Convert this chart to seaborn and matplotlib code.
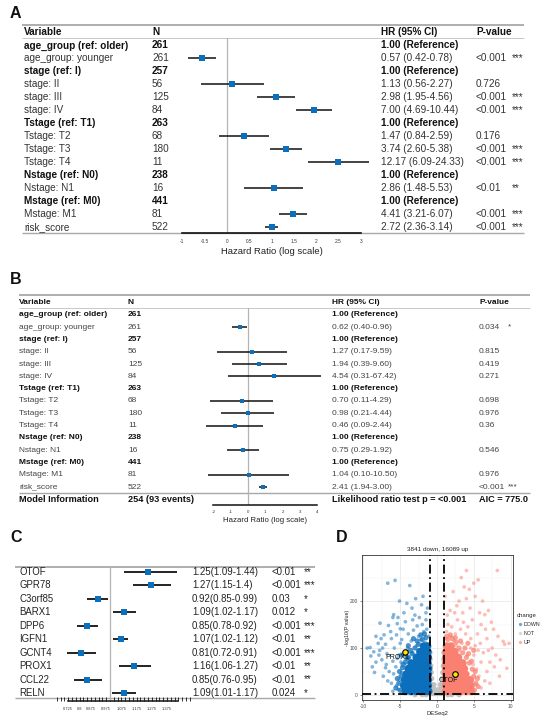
import numpy as np
import pandas as pd
import matplotlib
matplotlib.use("Agg")
import matplotlib.pyplot as plt
import seaborn as sns
from matplotlib.transforms import blended_transform_factory
from matplotlib.lines import Line2D
from matplotlib.ticker import MultipleLocator

nan = np.nan

# ---------------- Panel A data (univariate Cox) ----------------
A_vars = ["age_group (ref: older)", "age_group: younger", "stage (ref: I)", "stage: II", "stage: III",
          "stage: IV", "Tstage (ref: T1)", "Tstage: T2", "Tstage: T3", "Tstage: T4", "Nstage (ref: N0)",
          "Nstage: N1", "Mstage (ref: M0)", "Mstage: M1", "risk_score"]
A_ref = [True, False, True, False, False, False, True, False, False, False, True, False, True, False, False]
A_n = [261, 261, 257, 56, 125, 84, 263, 68, 180, 11, 238, 16, 441, 81, 522]
A_hr = [nan, 0.57, nan, 1.13, 2.98, 7.00, nan, 1.47, 3.74, 12.17, nan, 2.86, nan, 4.41, 2.72]
A_lo = [nan, 0.42, nan, 0.56, 1.95, 4.69, nan, 0.84, 2.60, 6.09, nan, 1.48, nan, 3.21, 2.36]
A_hi = [nan, 0.78, nan, 2.27, 4.56, 10.44, nan, 2.59, 5.38, 24.33, nan, 5.53, nan, 6.07, 3.14]
A_p = ["", "<0.001", "", "0.726", "<0.001", "<0.001", "", "0.176", "<0.001", "<0.001", "", "<0.01", "",
       "<0.001", "<0.001"]
A_stars = ["", "***", "", "", "***", "***", "", "", "***", "***", "", "**", "", "***", "***"]
A_ticks = [-1, -0.5, 0, 0.5, 1, 1.5, 2, 2.5, 3]

# ---------------- Panel B data (multivariate Cox) ----------------
B_vars = A_vars
B_ref = A_ref
B_n = [261, 261, 257, 56, 125, 84, 263, 68, 180, 11, 238, 16, 441, 81, 522]
B_hr = [nan, 0.62, nan, 1.27, 1.94, 4.54, nan, 0.70, 0.98, 0.46, nan, 0.75, nan, 1.04, 2.41]
B_lo = [nan, 0.40, nan, 0.17, 0.39, 0.31, nan, 0.11, 0.21, 0.09, nan, 0.29, nan, 0.10, 1.94]
B_hi = [nan, 0.96, nan, 9.59, 9.60, 67.42, nan, 4.29, 4.44, 2.44, nan, 1.92, nan, 10.50, 3.00]
B_p = ["", "0.034", "", "0.815", "0.419", "0.271", "", "0.698", "0.976", "0.36", "", "0.546", "",
       "0.976", "<0.001"]
B_stars = ["", "*", "", "", "", "", "", "", "", "", "", "", "", "", "***"]
B_model = ["Model Information", "254 (93 events)", "Likelihood ratio test p = <0.001", "AIC = 775.0"]
B_ticks = [-2, -1, 0, 1, 2, 3, 4]

# ---------------- Panel C data (gene forest) ----------------
C_genes = ["OTOF", "GPR78", "C3orf85", "BARX1", "DPP6", "IGFN1", "GCNT4", "PROX1", "CCL22", "RELN"]
C_hr = [1.25, 1.27, 0.92, 1.09, 0.85, 1.07, 0.81, 1.16, 0.85, 1.09]
C_lo = [1.09, 1.15, 0.85, 1.02, 0.78, 1.02, 0.72, 1.06, 0.76, 1.01]
C_hi = [1.44, 1.4, 0.99, 1.17, 0.92, 1.12, 0.91, 1.27, 0.95, 1.17]
C_p = ["<0.01", "<0.001", "0.03", "0.012", "<0.001", "<0.01", "<0.001", "<0.01", "<0.01", "0.024"]
C_stars = ["**", "***", "*", "*", "***", "**", "***", "**", "**", "*"]
C_ticks = [0.725, 0.8, 0.875, 0.975, 1.075, 1.175, 1.275, 1.375]

# ---------------- Panel D data (volcano) ----------------
D_title = "3841 down, 16089 up"
down_sc = [(-6.7, 238), (-5.7, 244), (-3.7, 233), (-2.1, 192), (-5.9, 171), (-6.0, 165), (-7.75, 153),
           (-5.4, 152), (-4.3, 156), (-5.0, 141), (-2.7, 147), (-9.1, 101), (-7.0, 108), (-8.6, 92),
           (-9.0, 83), (-8.3, 70), (-7.0, 58), (-6.5, 50), (-7.5, 75), (-6.2, 120), (-5.5, 128),
           (-4.8, 118), (-3.9, 130), (-3.2, 138), (-2.5, 125), (-1.8, 135), (-1.5, 160), (-3.0, 170),
           (-4.5, 175), (-6.3, 135), (-7.2, 128), (-8.0, 110), (-5.8, 100), (-6.8, 88), (-7.8, 95),
           (-5.2, 85), (-6.0, 72), (-5.6, 60), (-8.8, 60), (-7.3, 40), (-6.7, 30), (-5.9, 45),
           (-5.0, 110), (-4.0, 100), (-3.5, 115), (-2.8, 105), (-2.2, 118), (-1.6, 112), (-3.3, 160),
           (-2.4, 165), (-4.6, 140), (-5.3, 165), (-6.6, 148), (-7.6, 120), (-8.3, 125), (-9.5, 100),
           (-4.1, 195), (-3.4, 185), (-2.9, 205), (-5.1, 200), (-1.3, 185), (-1.9, 210), (-7.9, 85),
           (-8.5, 48), (-6.9, 65), (-4.9, 70), (-5.4, 78), (-4.4, 85), (-3.8, 80), (-7.4, 100),
           (-3.3, 90), (-2.6, 95), (-1.2, 95), (-1.4, 140), (-2.0, 150), (-1.1, 125), (-6.2, 25),
           (-5.5, 20), (-5.1, 32), (-4.8, 48), (-5.3, 12), (-6.0, 8), (-1.5, 175)]
down_mid = [(-5.0, 10), (-5.2, 25), (-4.9, 40), (-4.7, 58), (-4.3, 70), (-3.9, 80), (-3.4, 88),
            (-3.0, 100), (-2.5, 108), (-2.0, 118), (-1.5, 122), (-5.6, 15), (-5.4, 35), (-5.1, 50),
            (-4.6, 65), (-4.1, 78), (-3.6, 95), (-2.7, 115), (-2.2, 128), (-1.7, 130), (-4.8, 85),
            (-3.9, 105), (-3.2, 120)]
down_core = [(-4.3, 8), (-3.6, 8), (-2.9, 8), (-2.2, 8), (-1.5, 8), (-1.15, 8),
             (-4.5, 20), (-3.8, 20), (-3.1, 20), (-2.4, 20), (-1.7, 20), (-1.2, 20),
             (-4.4, 32), (-3.7, 32), (-3.0, 32), (-2.3, 32), (-1.6, 32), (-1.2, 32),
             (-4.2, 44), (-3.5, 44), (-2.8, 44), (-2.1, 44), (-1.5, 44), (-1.2, 44),
             (-3.9, 56), (-3.3, 56), (-2.6, 56), (-2.0, 56), (-1.4, 56), (-1.15, 56),
             (-3.5, 68), (-2.9, 68), (-2.3, 68), (-1.7, 68), (-1.25, 68),
             (-2.8, 80), (-2.2, 80), (-1.6, 80), (-1.2, 80),
             (-2.3, 92), (-1.7, 92), (-1.25, 92), (-1.8, 104), (-1.3, 104)]
up_sc = [(4.0, 265), (8.2, 265), (5.6, 245), (5.0, 238), (5.2, 210), (4.0, 205), (6.5, 171), (9.0, 114),
         (9.2, 108), (9.5, 57), (7.7, 140), (6.0, 150), (4.5, 185), (3.5, 175), (2.8, 160), (3.2, 140),
         (5.5, 130), (6.8, 120), (7.5, 100), (8.0, 85), (8.6, 75), (7.2, 70), (6.3, 90), (5.2, 105),
         (4.6, 120), (3.9, 130), (2.5, 130), (2.0, 145), (1.5, 150), (1.8, 180), (3.0, 200), (6.2, 200),
         (7.0, 180), (4.8, 160), (5.8, 175), (3.4, 110), (5.0, 85), (6.0, 70), (6.8, 50), (7.8, 60),
         (5.7, 40), (8.5, 40), (6.5, 30), (5.4, 55), (4.6, 100), (3.7, 230), (2.3, 115), (1.2, 120),
         (1.4, 170), (6.6, 140), (7.4, 155), (8.3, 125), (5.9, 110), (4.2, 145), (2.7, 190), (9.8, 110),
         (1.1, 210), (2.2, 220), (3.3, 250), (4.4, 225), (7.0, 95), (5.3, 22), (6.0, 15), (7.2, 25),
         (4.9, 12), (1.3, 135), (1.9, 125), (2.6, 105), (3.1, 95), (4.1, 85), (4.9, 65), (5.6, 95),
         (3.6, 155), (2.4, 175)]
up_mid = [(5.1, 10), (5.3, 25), (5.0, 40), (4.8, 55), (4.4, 68), (4.0, 80), (3.5, 90), (3.0, 100),
          (2.6, 112), (2.1, 120), (1.5, 118), (5.6, 18), (5.5, 35), (5.2, 50), (4.7, 72), (4.3, 88),
          (3.8, 100), (3.2, 115), (2.5, 122), (1.8, 128), (1.3, 125), (5.0, 95), (4.2, 110)]
up_core = [(1.2, 8), (1.9, 8), (2.6, 8), (3.3, 8), (4.0, 8), (4.6, 8),
           (1.2, 20), (1.9, 20), (2.6, 20), (3.3, 20), (4.0, 20), (4.6, 20),
           (1.2, 32), (1.9, 32), (2.6, 32), (3.3, 32), (4.0, 32), (4.5, 32),
           (1.2, 44), (1.9, 44), (2.6, 44), (3.3, 44), (3.9, 44),
           (1.2, 56), (1.8, 56), (2.5, 56), (3.1, 56), (3.7, 56),
           (1.2, 68), (1.8, 68), (2.4, 68), (3.0, 68), (3.5, 68),
           (1.2, 80), (1.8, 80), (2.4, 80), (2.9, 80),
           (1.25, 92), (1.9, 92), (2.4, 92), (1.3, 104), (1.9, 104)]
not_pts = [(-0.8, 3), (-0.5, 3), (-0.2, 3), (0.1, 3), (0.4, 3), (0.7, 3),
           (-0.85, 12), (-0.55, 12), (-0.3, 12), (0.3, 12), (0.6, 12), (0.85, 12),
           (-0.9, 22), (-0.65, 22), (-0.4, 22), (0.45, 22), (0.7, 22), (0.9, 22),
           (-0.9, 35), (-0.7, 35), (0.7, 35), (0.9, 35), (-0.92, 48), (-0.78, 48), (0.78, 48), (0.92, 48),
           (-0.93, 62), (-0.83, 62), (0.85, 62), (0.93, 62), (-0.93, 76), (0.93, 76), (-0.94, 90),
           (0.94, 90), (-3.0, 0.5), (-2.0, 0.5), (-1.5, 0.5), (1.5, 0.5), (2.0, 0.5), (3.0, 0.5)]
fc_cut = [-1, 1]
p_cut = 1.3
hl_genes = ["PROX1", "OTOF"]
hl_x = [-4.3, 2.45]
hl_y = [92, 45]
hl_lab_x = [-5.4, 1.6]
hl_lab_y = [79, 31]
D_xticks = [-10, -5, 0, 5, 10]
D_yticks = [0, 100, 200]
D_groups = ["DOWN", "NOT", "UP"]

# ---------------- style ----------------
sns.set_theme(style="white")
plt.rcParams['font.family'] = ['Liberation Sans', 'DejaVu Sans']
plt.rcParams['axes.unicode_minus'] = False

BLUE = "#0B6FBB"
RED = "#FA8072"
GREY = "#BEBEBE"
LINEGREY = "#A8A8A8"
W, H = 550, 721

fig = plt.figure(figsize=(5.5, 7.21), dpi=100)
bg = fig.add_axes([0, 0, 1, 1])
bg.set_xlim(0, W)
bg.set_ylim(H, 0)
bg.axis("off")


def fig_box(x0, y0, x1, y1):
    return fig.add_axes([x0 / W, 1 - y1 / H, (x1 - x0) / W, (y1 - y0) / H])


def forest(ax, df, color, s, lw):
    d = df.dropna()
    ax.hlines(d["row"], d["lo"], d["hi"], color="#111111", lw=lw, zorder=2)
    sns.scatterplot(data=d, x="est", y="row", marker="s", s=s, color=color, linewidth=0,
                    ax=ax, zorder=3, legend=False)
    ax.set_xlabel("")
    ax.set_ylabel("")
    ax.patch.set_alpha(0)
    for sp in ["top", "left", "right"]:
        ax.spines[sp].set_visible(False)
    ax.set_yticks([])


def hline(y, x0, x1, lw=1.0, color=LINEGREY):
    bg.plot([x0, x1], [y, y], color=color, lw=lw, solid_capstyle="butt")


# panel letters
for lab, (x, y) in zip("ABCD", [(15, 13), (16, 280), (16, 538), (342, 538)]):
    bg.text(x, y, lab, fontsize=11.5, fontweight="bold", ha="center", va="center", color="#111")

# ================= Panel A =================
axA = fig_box(160, 25, 378, 233)
rowsA = np.arange(1, len(A_vars) + 1)
dfA = pd.DataFrame({"row": rowsA, "est": np.log(A_hr), "lo": np.log(A_lo), "hi": np.log(A_hi)})
forest(axA, dfA, BLUE, 13, 1.1)
axA.set_xlim(-1.502, 3.386)
axA.set_ylim(15.483, -0.579)
axA.axvline(0, ymin=0, ymax=(233 - 37.5) / (233 - 25), color="#B4B4B4", lw=0.9, zorder=1)
axA.spines["bottom"].set_bounds(A_ticks[0], A_ticks[-1])
axA.spines["bottom"].set_linewidth(1.2)
axA.spines["bottom"].set_color("#111")
axA.set_xticks(A_ticks)
axA.set_xticklabels([f"{t:g}" for t in A_ticks])
axA.tick_params(axis="x", direction="in", length=2.5, width=0.6, labelsize=3.4, pad=4,
                colors="#111", labelcolor="#333")
hline(25, 22, 524, 1.3)
hline(37.5, 22, 524, 0.7, "#C8C8C8")
hline(232.5, 22, 524, 1.0)
trA = blended_transform_factory(bg.transData, axA.transData)
fsA = 7.2
for x, t in zip([24, 152, 381, 476], ["Variable", "N", "HR (95% CI)", "P-value"]):
    axA.text(x, 0, t, transform=trA, fontsize=fsA, fontweight="bold", va="center", color="#111")
for r, v, n, ref, hr, lo, hi, p, st in zip(rowsA, A_vars, A_n, A_ref, A_hr, A_lo, A_hi, A_p, A_stars):
    if ref:
        kw = dict(fontsize=fsA, fontweight="bold", color="#111", va="center", transform=trA)
        axA.text(24, r, v, **kw)
        axA.text(152, r, str(n), **kw)
        axA.text(381, r, "1.00 (Reference)", **kw)
    else:
        kw = dict(fontsize=fsA, color="#333", va="center", transform=trA)
        axA.text(24, r, v, **kw)
        axA.text(152, r, str(n), **kw)
        axA.text(381, r, f"{hr:.2f} ({lo:.2f}-{hi:.2f})", **kw)
        axA.text(476, r, p, **kw)
        axA.text(512, r, st, **kw)
bg.text(272, 252, "Hazard Ratio (log scale)", fontsize=6.8, ha="center", va="center", color="#222")

# ================= Panel B =================
axB = fig_box(190, 295, 325, 505)
rowsB = np.arange(1, len(B_vars) + 1)
dfB = pd.DataFrame({"row": rowsB, "est": np.log(B_hr), "lo": np.log(B_lo), "hi": np.log(B_hi)})
forest(axB, dfB, BLUE, 11, 1.1)
axB.set_xlim(-3.353, 4.451)
axB.set_ylim(16.463, -0.6098)
axB.axvline(0, ymin=0, ymax=(505 - 308) / (505 - 295), color="#B4B4B4", lw=0.9, zorder=1)
axB.spines["bottom"].set_bounds(B_ticks[0], B_ticks[-1])
axB.spines["bottom"].set_linewidth(1.1)
axB.spines["bottom"].set_color("#111")
axB.set_xticks(B_ticks)
axB.set_xticklabels([f"{t:g}" for t in B_ticks])
axB.tick_params(axis="x", direction="in", length=2.5, width=0.6, labelsize=3.2, pad=3.5,
                colors="#111", labelcolor="#333")
hline(295, 19, 530, 1.3)
hline(308, 19, 530, 0.7, "#C8C8C8")
hline(493, 19, 530, 1.0)
trB = blended_transform_factory(bg.transData, axB.transData)
fsB = 6.0
for x, t in zip([19, 128, 332, 479], ["Variable", "N", "HR (95% CI)", "P-value"]):
    axB.text(x, 0, t, transform=trB, fontsize=fsB, fontweight="bold", va="center", color="#111")
for r, v, n, ref, hr, lo, hi, p, st in zip(rowsB, B_vars, B_n, B_ref, B_hr, B_lo, B_hi, B_p, B_stars):
    if ref:
        kw = dict(fontsize=fsB, fontweight="bold", color="#111", va="center", transform=trB)
        axB.text(19, r, v, **kw)
        axB.text(128, r, str(n), **kw)
        axB.text(332, r, "1.00 (Reference)", **kw)
    else:
        kw = dict(fontsize=fsB, color="#444", va="center", transform=trB)
        axB.text(19, r, v, **kw)
        axB.text(128, r, str(n), **kw)
        axB.text(332, r, f"{hr:.2f} ({lo:.2f}-{hi:.2f})", **kw)
        axB.text(479, r, p, **kw)
        axB.text(508, r, st, **kw)
rm = len(B_vars) + 1
for x, t in zip([19, 128, 332, 479], B_model):
    axB.text(x, rm, t, transform=trB, fontsize=6.6, fontweight="bold", va="center", color="#111")
bg.text(265, 520, "Hazard Ratio (log scale)", fontsize=5.6, ha="center", va="center", color="#222")

# ================= Panel C =================
axC = fig_box(55, 567, 190, 701)
rowsC = np.arange(len(C_genes))
dfC = pd.DataFrame({"row": rowsC, "est": C_hr, "lo": C_lo, "hi": C_hi})
forest(axC, dfC, BLUE, 14, 1.3)
axC.set_xlim(0.6382, 1.5263)
axC.set_ylim(9.598, -0.372)
axC.axvline(1.0, ymin=0, ymax=1, color="#B4B4B4", lw=0.9, zorder=1)
axC.spines["bottom"].set_bounds(0.725, 1.45)
axC.spines["bottom"].set_linewidth(1.1)
axC.spines["bottom"].set_color("#111")
axC.set_xticks(C_ticks)
axC.set_xticklabels([f"{t:g}" for t in C_ticks])
axC.xaxis.set_minor_locator(MultipleLocator(0.025))
axC.tick_params(axis="x", which="both", direction="in", length=3, width=0.6, labelsize=2.9,
                pad=4, colors="#111", labelcolor="#333", bottom=True)
hline(567, 15, 315, 1.3)
hline(698, 15, 315, 1.0)
trC = blended_transform_factory(bg.transData, axC.transData)
fsC = 6.9
for r, g, hr, lo, hi, p, st in zip(rowsC, C_genes, C_hr, C_lo, C_hi, C_p, C_stars):
    kw = dict(fontsize=fsC, color="#222", va="center", transform=trC)
    axC.text(19, r, g, **kw)
    axC.text(192, r, f"{hr:g}({lo:g}-{hi:g})", **kw)
    axC.text(272, r, p, **kw)
    axC.text(304, r, st, **kw)

# ================= Panel D (volcano) =================
axD = fig_box(362, 555, 513, 700)


def pts(lst, grp):
    return pd.DataFrame({"x": [a for a, b in lst], "y": [b for a, b in lst], "change": grp})


pal = {"DOWN": BLUE, "NOT": GREY, "UP": RED}
sns.scatterplot(data=pts(not_pts, "NOT"), x="x", y="y", hue="change", palette=pal, s=14, alpha=0.9,
                linewidth=0, ax=axD, legend=False, zorder=2)
sns.scatterplot(data=pd.concat([pts(down_sc, "DOWN"), pts(up_sc, "UP")]), x="x", y="y", hue="change",
                palette=pal, s=7, alpha=0.5, linewidth=0, ax=axD, legend=False, zorder=2)
sns.scatterplot(data=pd.concat([pts(down_mid, "DOWN"), pts(up_mid, "UP")]), x="x", y="y", hue="change",
                palette=pal, s=14, alpha=0.75, linewidth=0, ax=axD, legend=False, zorder=2)
sns.scatterplot(data=pd.concat([pts(down_core, "DOWN"), pts(up_core, "UP")]), x="x", y="y", hue="change",
                palette=pal, s=32, alpha=1.0, linewidth=0, ax=axD, legend=False, zorder=3)
for xv in fc_cut:
    axD.axvline(xv, color="black", lw=1.3, ls=(0, (5, 2, 1, 2)), zorder=5)
axD.axhline(p_cut, color="black", lw=1.3, ls=(0, (5, 2, 1, 2)), zorder=5)
sns.scatterplot(x=hl_x, y=hl_y, s=16, color="#FFE600", edgecolor="black", linewidth=0.8, ax=axD,
                zorder=6, legend=False)
for g, lx, ly in zip(hl_genes, hl_lab_x, hl_lab_y):
    axD.text(lx, ly, g, fontsize=5, ha="center", va="center", color="#111", zorder=7)
axD.set_xlim(-10.2, 10.34)
axD.set_ylim(-10.6, 298)
axD.set_xticks(D_xticks)
axD.set_yticks(D_yticks)
axD.xaxis.set_minor_locator(MultipleLocator(2.5))
axD.yaxis.set_minor_locator(MultipleLocator(50))
axD.grid(True, which="major", color="#E6E6E6", lw=0.5)
axD.grid(True, which="minor", color="#F0F0F0", lw=0.3)
axD.set_axisbelow(True)
axD.set_xlabel("")
axD.set_ylabel("")
for sp in axD.spines.values():
    sp.set_color("#333")
    sp.set_linewidth(0.6)
axD.tick_params(axis="both", which="major", length=1.5, width=0.4, labelsize=3.5, pad=1.5,
                colors="#333", labelcolor="#4d4d4d", bottom=True, left=True)
axD.tick_params(axis="both", which="minor", length=0)
bg.text(438, 549, D_title, fontsize=4.6, ha="center", va="center", color="#222")
bg.text(437, 713, "DESeq2", fontsize=4.2, ha="center", va="center", color="#222")
bg.text(347, 628, "-log10(P value)", fontsize=3.8, ha="center", va="center", rotation=90, color="#222")
handles = [Line2D([], [], marker="o", ls="", color=pal[g], alpha=0.6, markersize=2.4, markeredgewidth=0)
           for g in D_groups]
leg = fig.legend(handles, D_groups, title="change", loc="upper left",
                 bbox_to_anchor=(517 / W, 1 - 613 / H), frameon=False, fontsize=3.8, title_fontsize=4.3,
                 handletextpad=0.3, labelspacing=0.75, borderaxespad=0, handlelength=1.0, borderpad=0)
leg._legend_box.align = "left"

fig.savefig("out.png", dpi=100)
